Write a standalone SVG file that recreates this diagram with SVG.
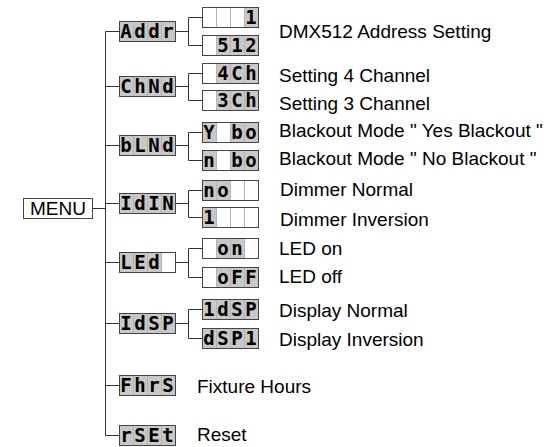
<svg xmlns="http://www.w3.org/2000/svg" width="549" height="447" viewBox="0 0 549 447">
<style>
.bg{fill:#fff}
.bd{fill:none;stroke:#444;stroke-width:1}
.sh{fill:#c8c8c8}
.sep{stroke:#b4b4b4;stroke-width:1}
.sg{font-family:"DejaVu Sans Mono",monospace;font-weight:bold;font-size:19px;fill:#000;text-anchor:middle}
.lbl{font-family:"Liberation Sans",Arial,sans-serif;font-size:19px;fill:#000}
.ln{stroke:#333;stroke-width:1;fill:none}
</style>
<defs>
<rect id="frame" class="bg" x="0" y="0" width="57" height="21"/>
<g id="seps">
<path class="sep" d="M14.5 1V20M28.5 1V20M42.5 1V20"/>
<rect class="bd" x="0.5" y="0.5" width="56" height="20"/>
</g>
<rect id="c" class="sh" x="0" y="0" width="14" height="20"/>
</defs>

<g id="connectors">
<path class="ln" d="M93 208.5H105.5M105.5 31.5V435.5"/>
<path class="ln" d="M105.5 31.5H119M105.5 86.5H119M105.5 145.5H119M105.5 203.5H119M105.5 262.5H119M105.5 323.5H119M105.5 385.5H119M105.5 435.5H119"/>
<path class="ln" d="M175 31.5H188.5M188.5 17.5V45.5M188.5 17.5H202M188.5 45.5H202"/>
<path class="ln" d="M175 86.5H188.5M188.5 73.5V100.5M188.5 73.5H202M188.5 100.5H202"/>
<path class="ln" d="M175 145.5H188.5M188.5 132.5V160.5M188.5 132.5H202M188.5 160.5H202"/>
<path class="ln" d="M175 203.5H188.5M188.5 190.5V217.5M188.5 190.5H202M188.5 217.5H202"/>
<path class="ln" d="M175 262.5H188.5M188.5 248.5V277.5M188.5 248.5H202M188.5 277.5H202"/>
<path class="ln" d="M175 323.5H188.5M188.5 309.5V338.5M188.5 309.5H202M188.5 338.5H202"/>
</g>

<g id="menu">
<rect class="bd" x="23.5" y="198.5" width="69" height="20"/>
<text class="lbl" x="58" y="215" text-anchor="middle">MENU</text>
</g>

<g id="addr" transform="translate(119,21)">
<use href="#frame"/><use href="#c" x="0"/><use href="#c" x="14"/><use href="#c" x="28"/><use href="#c" x="42"/><use href="#seps"/>
<text class="sg" y="17"><tspan x="7">A</tspan><tspan x="21">d</tspan><tspan x="35">d</tspan><tspan x="49">r</tspan></text>
</g>
<g id="addr-1" transform="translate(202,7)">
<use href="#frame"/><use href="#c" x="42"/><use href="#seps"/>
<text class="sg" y="17"><tspan x="49">1</tspan></text>
</g>
<g id="addr-512" transform="translate(202,35)">
<use href="#frame"/><use href="#c" x="14"/><use href="#c" x="28"/><use href="#c" x="42"/><use href="#seps"/>
<text class="sg" y="17"><tspan x="21">5</tspan><tspan x="35">1</tspan><tspan x="49">2</tspan></text>
</g>

<g id="chnd" transform="translate(119,76)">
<use href="#frame"/><use href="#c" x="0"/><use href="#c" x="14"/><use href="#c" x="28"/><use href="#c" x="42"/><use href="#seps"/>
<text class="sg" y="17"><tspan x="7">C</tspan><tspan x="21">h</tspan><tspan x="35">N</tspan><tspan x="49">d</tspan></text>
</g>
<g id="ch4" transform="translate(202,63)">
<use href="#frame"/><use href="#c" x="14"/><use href="#c" x="28"/><use href="#c" x="42"/><use href="#seps"/>
<text class="sg" y="17"><tspan x="21">4</tspan><tspan x="35">C</tspan><tspan x="49">h</tspan></text>
</g>
<g id="ch3" transform="translate(202,90)">
<use href="#frame"/><use href="#c" x="14"/><use href="#c" x="28"/><use href="#c" x="42"/><use href="#seps"/>
<text class="sg" y="17"><tspan x="21">3</tspan><tspan x="35">C</tspan><tspan x="49">h</tspan></text>
</g>

<g id="blnd" transform="translate(119,135)">
<use href="#frame"/><use href="#c" x="0"/><use href="#c" x="14"/><use href="#c" x="28"/><use href="#c" x="42"/><use href="#seps"/>
<text class="sg" y="17"><tspan x="7">b</tspan><tspan x="21">L</tspan><tspan x="35">N</tspan><tspan x="49">d</tspan></text>
</g>
<g id="ybo" transform="translate(202,122)">
<use href="#frame"/><use href="#c" x="0"/><use href="#c" x="28"/><use href="#c" x="42"/><use href="#seps"/>
<text class="sg" y="17"><tspan x="7">Y</tspan><tspan x="35">b</tspan><tspan x="49">o</tspan></text>
</g>
<g id="nbo" transform="translate(202,150)">
<use href="#frame"/><use href="#c" x="0"/><use href="#c" x="28"/><use href="#c" x="42"/><use href="#seps"/>
<text class="sg" y="17"><tspan x="7">n</tspan><tspan x="35">b</tspan><tspan x="49">o</tspan></text>
</g>

<g id="idin" transform="translate(119,193)">
<use href="#frame"/><use href="#c" x="0"/><use href="#c" x="14"/><use href="#c" x="28"/><use href="#c" x="42"/><use href="#seps"/>
<text class="sg" y="17"><tspan x="7">I</tspan><tspan x="21">d</tspan><tspan x="35">I</tspan><tspan x="49">N</tspan></text>
</g>
<g id="no" transform="translate(202,180)">
<use href="#frame"/><use href="#c" x="0"/><use href="#c" x="14"/><use href="#seps"/>
<text class="sg" y="17"><tspan x="7">n</tspan><tspan x="21">o</tspan></text>
</g>
<g id="inv1" transform="translate(202,207)">
<use href="#frame"/><use href="#c" x="0"/><use href="#seps"/>
<text class="sg" y="17"><tspan x="7">1</tspan></text>
</g>

<g id="led" transform="translate(119,252)">
<use href="#frame"/><use href="#c" x="0"/><use href="#c" x="14"/><use href="#c" x="28"/><use href="#seps"/>
<text class="sg" y="17"><tspan x="7">L</tspan><tspan x="21">E</tspan><tspan x="35">d</tspan></text>
</g>
<g id="on" transform="translate(202,238)">
<use href="#frame"/><use href="#c" x="14"/><use href="#c" x="28"/><use href="#seps"/>
<text class="sg" y="17"><tspan x="21">o</tspan><tspan x="35">n</tspan></text>
</g>
<g id="off" transform="translate(202,267)">
<use href="#frame"/><use href="#c" x="14"/><use href="#c" x="28"/><use href="#c" x="42"/><use href="#seps"/>
<text class="sg" y="17"><tspan x="21">o</tspan><tspan x="35">F</tspan><tspan x="49">F</tspan></text>
</g>

<g id="idsp" transform="translate(119,313)">
<use href="#frame"/><use href="#c" x="0"/><use href="#c" x="14"/><use href="#c" x="28"/><use href="#c" x="42"/><use href="#seps"/>
<text class="sg" y="17"><tspan x="7">I</tspan><tspan x="21">d</tspan><tspan x="35">S</tspan><tspan x="49">P</tspan></text>
</g>
<g id="dsp-n" transform="translate(202,299)">
<use href="#frame"/><use href="#c" x="0"/><use href="#c" x="14"/><use href="#c" x="28"/><use href="#c" x="42"/><use href="#seps"/>
<text class="sg" y="17"><tspan x="7">1</tspan><tspan x="21">d</tspan><tspan x="35">S</tspan><tspan x="49">P</tspan></text>
</g>
<g id="dsp-i" transform="translate(202,328)">
<use href="#frame"/><use href="#c" x="0"/><use href="#c" x="14"/><use href="#c" x="28"/><use href="#c" x="42"/><use href="#seps"/>
<text class="sg" y="17"><tspan x="7">d</tspan><tspan x="21">S</tspan><tspan x="35">P</tspan><tspan x="49">1</tspan></text>
</g>

<g id="fhrs" transform="translate(119,375)">
<use href="#frame"/><use href="#c" x="0"/><use href="#c" x="14"/><use href="#c" x="28"/><use href="#c" x="42"/><use href="#seps"/>
<text class="sg" y="17"><tspan x="7">F</tspan><tspan x="21">h</tspan><tspan x="35">r</tspan><tspan x="49">S</tspan></text>
</g>
<g id="rset" transform="translate(119,425)">
<use href="#frame"/><use href="#c" x="0"/><use href="#c" x="14"/><use href="#c" x="28"/><use href="#c" x="42"/><use href="#seps"/>
<text class="sg" y="17"><tspan x="7">r</tspan><tspan x="21">S</tspan><tspan x="35">E</tspan><tspan x="49">t</tspan></text>
</g>

<g id="labels">
<text class="lbl" x="279" y="38">DMX512 Address Setting</text>
<text class="lbl" x="279" y="82">Setting 4 Channel</text>
<text class="lbl" x="279" y="110">Setting 3 Channel</text>
<text class="lbl" x="279" y="137">Blackout Mode " Yes Blackout "</text>
<text class="lbl" x="279" y="165">Blackout Mode " No Blackout "</text>
<text class="lbl" x="280" y="196">Dimmer Normal</text>
<text class="lbl" x="280" y="226">Dimmer Inversion</text>
<text class="lbl" x="279" y="255">LED on</text>
<text class="lbl" x="279" y="283">LED off</text>
<text class="lbl" x="279" y="317">Display Normal</text>
<text class="lbl" x="279" y="346">Display Inversion</text>
<text class="lbl" x="197" y="393">Fixture Hours</text>
<text class="lbl" x="197" y="441">Reset</text>
</g>
</svg>
